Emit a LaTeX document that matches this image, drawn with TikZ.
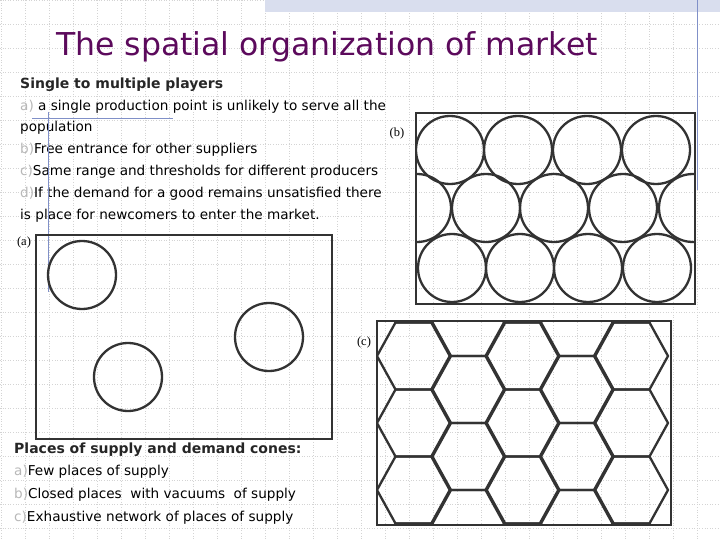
\documentclass[tikz,border=0pt]{standalone}
\usepackage{fontspec}
\setmainfont{DejaVu Sans}
\newfontfamily\serifpanel{Liberation Serif}
\definecolor{titlec}{HTML}{5C0A5C}
\definecolor{linec}{HTML}{333333}
\definecolor{gridc}{HTML}{D4D4D4}
\definecolor{lblc}{HTML}{B8B8B8}
\definecolor{accent}{HTML}{8090C8}
\begin{document}
\begin{tikzpicture}[x=1pt,y=-1pt,
  frame/.style={draw=linec,line width=2.6pt},
  cone/.style={draw=linec,line width=2.3pt},
  body/.style={anchor=west,inner sep=0pt,font=\fontsize{13.6}{15}\selectfont,text=black},
  head/.style={anchor=west,inner sep=0pt,font=\fontsize{14}{16}\selectfont\bfseries,text=black!85},
  plbl/.style={inner sep=0pt,font=\serifpanel\fontsize{12.5}{14}\selectfont}]
\useasboundingbox (0,0) rectangle (720,540);
\fill[white] (0,0) rectangle (720,540);
\foreach \x in {1,25,...,720} \draw[gridc,dotted,line width=0.6pt] (\x,0) -- (\x,540);
\foreach \y in {0,24,...,540} \draw[gridc,dotted,line width=0.6pt] (0,\y) -- (720,\y);
\fill[accent!30] (265,0) rectangle (720,12);
\draw[accent,line width=0.7pt] (697,0) -- (697,190);
\node[anchor=west,inner sep=0pt,text=titlec,font=\fontsize{31.5}{36}\selectfont] (title) at (56,47) {The spatial organization of market};
% text block top
\node[head] (h1) at (20,85) {Single to multiple players};
\node[body] (t1) at (20,107) {\textcolor{lblc}{a)} a single production point is unlikely to serve all the};
\node[body] (t2) at (20,128) {population};
\node[body] (t3) at (20,150) {\textcolor{lblc}{b)}Free entrance for other suppliers};
\node[body] (t4) at (20,172) {\textcolor{lblc}{c)}Same range and thresholds for different producers};
\node[body] (t5) at (20,194) {\textcolor{lblc}{d)}If the demand for a good remains unsatisfied there};
\node[body] (t6) at (20,216) {is place for newcomers to enter the market.};
\draw[accent,line width=0.7pt] (32,118) -- (173,118);
\draw[accent,line width=0.7pt] (48,112) -- (48,292);
% panel a
\node[plbl] (la) at (24,242) {(a)};
\draw[frame] (36,235) rectangle (332,439);
\draw[cone] (82,275) circle (34);
\draw[cone] (269,337) circle (34);
\draw[cone] (128,377) circle (34);
% panel b
\node[plbl] (lb) at (397,133) {(b)};
\begin{scope}
\clip (416,113) rectangle (695,304);
\foreach \x in {450,518,587,656} \draw[cone] (\x,150) circle (34);
\foreach \x in {417,486,554,623,693} \draw[cone] (\x,208) circle (34);
\foreach \x in {452,520,588,657} \draw[cone] (\x,268) circle (34);
\end{scope}
\draw[frame] (416,113) rectangle (695,304);
% panel c
\node[plbl] (lc) at (364,342) {(c)};
\begin{scope}
\clip (377,321) rectangle (671,525);
\foreach \i in {0,...,4} {
  \foreach \j in {-1,...,3} {
    \pgfmathsetmacro{\cx}{414+54.25*\i}
    \pgfmathsetmacro{\cy}{356+67*\j+33.5*mod(\i,2)}
    \draw[cone,line join=round] (\cx-37,\cy) -- (\cx-18.5,\cy-33.5) -- (\cx+18.5,\cy-33.5) -- (\cx+37,\cy) -- (\cx+18.5,\cy+33.5) -- (\cx-18.5,\cy+33.5) -- cycle;
  }
}
\end{scope}
\draw[frame] (377,321) rectangle (671,525);
% bottom text
\node[head] (h2) at (14,450) {Places of supply and demand cones:};
\node[body] (b1) at (14,472) {\textcolor{lblc}{a)}Few places of supply};
\node[body] (b2) at (14,495) {\textcolor{lblc}{b)}Closed places\ \ with vacuums\ \ of supply};
\node[body] (b3) at (14,518) {\textcolor{lblc}{c)}Exhaustive network of places of supply};
\end{tikzpicture}
\end{document}
